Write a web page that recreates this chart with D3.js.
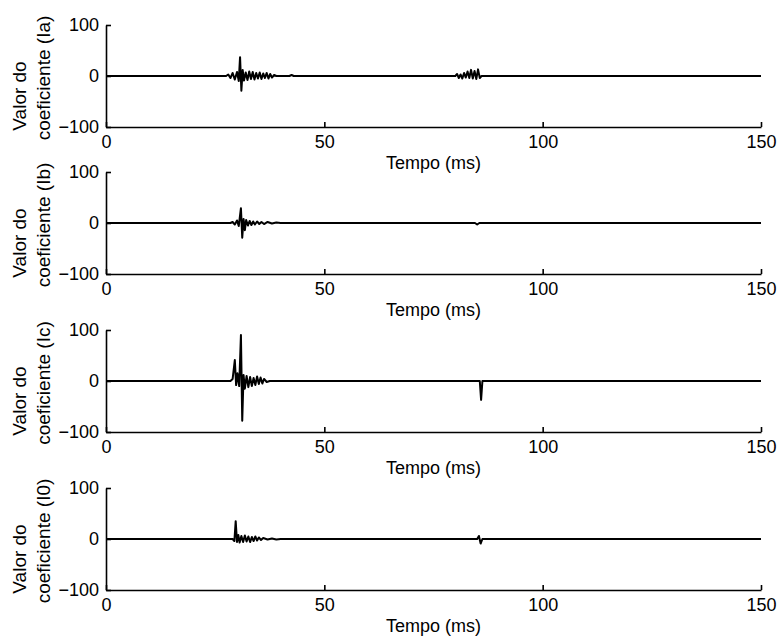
<!DOCTYPE html>
<html lang="pt">
<head>
<meta charset="UTF-8">
<title>coeficientes</title>
<style>
  body{margin:0;background:#fff;}
  svg{display:block;}
  text{font-family:"Liberation Sans",Arial,Helvetica,sans-serif;fill:#000;}
</style>
</head>
<body>
<svg width="782" height="636"></svg>
<script src="https://cdnjs.cloudflare.com/ajax/libs/d3/7.8.5/d3.min.js"></script>
<script>
// dados (tempo em ms, valor do coeficiente)
var xTicks = [0, 50, 100, 150];
var yTicks = [-100, 0, 100];
var names = ["Ia", "Ib", "Ic", "I0"];

var tIa = [0, 27.5, 28, 28.5, 29, 29.5, 30, 30.4, 30.7, 31.0, 31.3, 31.6, 32, 32.4, 32.8, 33.2, 33.6, 34, 34.4, 34.8, 35.2, 35.6, 36, 36.4, 36.8, 37.2, 37.6, 38, 38.5, 39, 42, 42.5, 43, 80, 80.4, 80.8, 81.2, 81.6, 82, 82.4, 82.8, 83.2, 83.6, 84, 84.4, 84.8, 85.2, 85.6, 86, 150];
var vIa = [0, 0, 3, -4, 6, -7, 8, -10, 37, -29, 12, -9, 7, -8, 9, -6, 8, -7, 6, -5, 7, -6, 5, -4, 6, -5, 4, -3, 2, 0, 0, 2, 0, 0, 4, -4, 3, -5, 6, -3, 9, -4, 12, -5, 10, -6, 13, -4, 0, 0];

var tIb = [0, 28.5, 29, 29.5, 30, 30.4, 30.9, 31.2, 31.5, 31.8, 32.1, 32.5, 32.9, 33.3, 33.7, 34.1, 34.6, 35.1, 35.6, 36.2, 37, 38, 39, 40, 84.5, 85, 85.5, 150];
var vIb = [0, 0, 2, -3, 5, -6, 29, -29, 8, -14, 6, -5, 4, -4, 3, -3, 3, -2, 2, -2, 2, -1, 1, 0, 0, -3, 0, 0];

var tIc = [0, 28.5, 29, 29.5, 29.8, 30.1, 30.5, 30.9, 31.2, 31.5, 31.8, 32.2, 32.6, 33, 33.4, 33.8, 34.2, 34.6, 35, 35.4, 35.8, 36.2, 36.8, 37.5, 85.6, 85.9, 86.2, 150];
var vIc = [0, 0, 4, 41, -8, 15, -10, 90, -78, 12, -15, 10, -12, 8, -10, 6, -8, 9, -6, 7, -5, 4, -2, 0, 0, -37, 0, 0];

var tI0 = [0, 29, 29.4, 29.7, 30, 30.3, 30.6, 31, 31.4, 31.8, 32.2, 32.6, 33, 33.4, 33.8, 34.2, 34.6, 35, 35.5, 36, 37, 38, 39, 40, 85, 85.4, 85.8, 86.2, 150];
var vI0 = [0, 0, -4, 35, -6, 8, -7, 6, -6, 7, -5, 5, -6, 4, -4, 5, -3, 3, -2, 2, -1, 1, -1, 0, 0, 6, -9, 0, 0];

var series = [[tIa, vIa], [tIb, vIb], [tIc, vIc], [tI0, vI0]];

var svg = d3.select("svg");
var x = d3.scaleLinear().domain([0, 150]).range([106, 761]);
var tops = [25, 172, 330, 488];   // topo de cada painel
var ph = 102;                      // altura de cada painel

series.forEach(function(s, i){
    var y = d3.scaleLinear().domain([-100, 100]).range([tops[i] + ph, tops[i]]);
    var g = svg.append("g");

    var xa = g.append("g").attr("transform", "translate(0," + y(-100) + ")")
        .call(d3.axisBottom(x).tickValues(xTicks).tickSizeInner(-5).tickSizeOuter(0).tickPadding(8));
    var ya = g.append("g").attr("transform", "translate(" + x(0) + ",0)")
        .call(d3.axisLeft(y).tickValues(yTicks).tickSizeInner(-5).tickSizeOuter(0).tickPadding(7));
    [xa, ya].forEach(function(a){
        a.selectAll("path,line").attr("stroke", "#000").attr("stroke-width", 1.6);
        a.selectAll("text").style("font-size", "18px").attr("fill", "#000");
    });

    var pts = s[0].map(function(t, k){ return [t, s[1][k]]; });
    var line = d3.line().x(function(d){ return x(d[0]); }).y(function(d){ return y(d[1]); });
    g.append("path").attr("d", line(pts)).attr("fill", "none")
        .attr("stroke", "#000").attr("stroke-width", 2).attr("stroke-linejoin", "round");

    g.append("text").attr("x", (x(0) + x(150)) / 2).attr("y", y(-100) + 42)
        .attr("text-anchor", "middle").style("font-size", "18px").text("Tempo (ms)");

    var yl = g.append("g").attr("transform", "translate(0," + y(0) + ") rotate(-90)");
    yl.append("text").attr("x", -20).attr("y", 26).attr("text-anchor", "middle")
        .style("font-size", "19px").text("Valor do");
    yl.append("text").attr("x", -2).attr("y", 50).attr("text-anchor", "middle")
        .style("font-size", "19px").text("coeficiente (" + names[i] + ")");
});
</script>
</body>
</html>
